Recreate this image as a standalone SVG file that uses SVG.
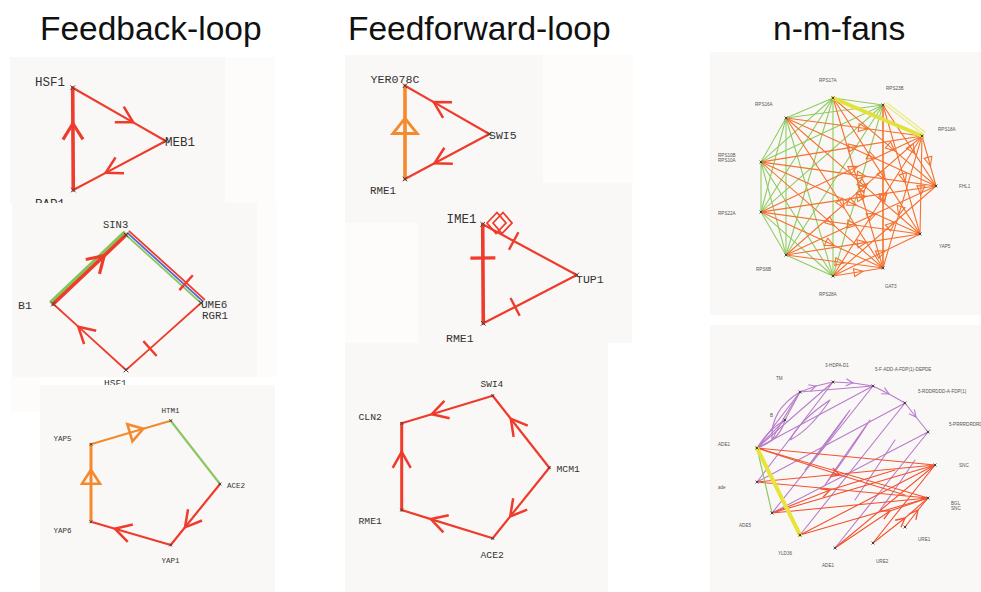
<svg xmlns="http://www.w3.org/2000/svg" xmlns:xlink="http://www.w3.org/1999/xlink" width="981" height="592" viewBox="0 0 981 592">
<style>
.title{font-family:"Liberation Sans",Arial,sans-serif;font-size:33.5px;fill:#111}
.lbl{font-family:"Liberation Mono","DejaVu Sans Mono",monospace;fill:#333}
.tiny{font-family:"Liberation Sans",Arial,sans-serif;font-size:4.6px;fill:#555}
.bg{fill:#faf8f6}
.bgl{fill:#fdfcfb}
.e{fill:none;stroke-linecap:round}
.r{stroke:#ef3b2b;stroke-width:2.2}
.rt{stroke:#ef3b2b;stroke-width:3.6}
.o{stroke:#f5892e;stroke-width:2.2}
.ot{stroke:#f5892e;stroke-width:3.6}
.g{stroke:#8dc763;stroke-width:2.2}
.gt{stroke:#86c45a;stroke-width:3.4}
.b{stroke:#5468cc;stroke-width:1.8}
.fg{stroke:#8fcb62;stroke-width:1.1}
.fo{stroke:#f4712f;stroke-width:1.1}
.fp{stroke:#b77ccb;stroke-width:1.1}
.fr{stroke:#f2522e;stroke-width:1.1}
.xm{fill:none;stroke:#444;stroke-width:1}
</style>
<defs>
<path id="xm" class="xm" d="M-2.3,-2.3L2.3,2.3M-2.3,2.3L2.3,-2.3"/>
<path id="xs" class="xm" d="M-1.4,-1.4L1.4,1.4M-1.4,1.4L1.4,-1.4"/>
<marker id="chevR" markerUnits="userSpaceOnUse" orient="auto" overflow="visible" markerWidth="1" markerHeight="1" refX="0" refY="0">
<path d="M-16,-9L0,0L-16,9" fill="none" stroke="#ef3b2b" stroke-width="2.5"/>
</marker>
<marker id="chevRT" markerUnits="userSpaceOnUse" orient="auto" overflow="visible" markerWidth="1" markerHeight="1" refX="0" refY="0">
<path d="M-16,-10L0,0L-16,10" fill="none" stroke="#ef3b2b" stroke-width="3.2"/>
</marker>
<marker id="tickR" markerUnits="userSpaceOnUse" orient="auto" overflow="visible" markerWidth="1" markerHeight="1" refX="0" refY="0">
<path d="M0,-10L0,10" fill="none" stroke="#ef3b2b" stroke-width="2.4"/>
</marker>
<marker id="tickRT" markerUnits="userSpaceOnUse" orient="auto" overflow="visible" markerWidth="1" markerHeight="1" refX="0" refY="0">
<path d="M0,-12.5L0,12.5" fill="none" stroke="#ef3b2b" stroke-width="3.2"/>
</marker>
<marker id="triO" markerUnits="userSpaceOnUse" orient="auto" overflow="visible" markerWidth="1" markerHeight="1" refX="0" refY="0">
<path d="M0,0L-14,-9L-14,9Z" fill="none" stroke="#f5892e" stroke-width="2.6"/>
</marker>
<marker id="triOB" markerUnits="userSpaceOnUse" orient="auto" overflow="visible" markerWidth="1" markerHeight="1" refX="0" refY="0">
<path d="M0,0L-15,-12L-15,12Z" fill="none" stroke="#f5892e" stroke-width="3"/>
</marker>
<marker id="triF" markerUnits="userSpaceOnUse" orient="auto" overflow="visible" markerWidth="1" markerHeight="1" refX="0" refY="0">
<path d="M0,0L-9,-4L-9,4Z" fill="none" stroke="#f4712f" stroke-width="1.1"/>
</marker>
<marker id="chevP" markerUnits="userSpaceOnUse" orient="auto" overflow="visible" markerWidth="1" markerHeight="1" refX="0" refY="0">
<path d="M-7,-3.5L0,0L-7,3.5" fill="none" stroke="#b77ccb" stroke-width="1.1"/>
</marker>
<marker id="chevF" markerUnits="userSpaceOnUse" orient="auto" overflow="visible" markerWidth="1" markerHeight="1" refX="0" refY="0">
<path d="M-9,-4.5L0,0L-9,4.5" fill="none" stroke="#f2522e" stroke-width="1.3"/>
</marker>
</defs>

<rect width="981" height="592" fill="#ffffff"/>

<g id="titles">
<text class="title" x="40" y="40">Feedback-loop</text>
<text class="title" x="348" y="40">Feedforward-loop</text>
<text class="title" x="773" y="40">n-m-fans</text>
</g>

<!-- ========== Feedback-loop panel 1 ========== -->
<rect class="bg" x="10" y="57" width="215" height="146"/>
<rect class="bgl" x="225" y="57" width="50" height="146"/>
<g id="fb1-edges">
<path class="e r" d="M72.7,87.7L133.15,122.35L165.7,141" marker-mid="url(#chevR)"/>
<path class="e r" d="M165.7,141L105.64,172.85L73.3,190" marker-mid="url(#chevR)"/>
<path class="e rt" d="M73.3,190L72.9,123.5L72.7,87.7" marker-mid="url(#chevRT)"/>
</g>
<g id="fb1-hsf1"><use href="#xm" x="72.7" y="87.7"/><text class="lbl" x="35" y="86" font-size="12.5">HSF1</text></g>
<g id="fb1-meb1"><use href="#xm" x="165.7" y="141"/><text class="lbl" x="165" y="146" font-size="12.5">MEB1</text></g>
<g id="fb1-rap1"><use href="#xm" x="73.3" y="190"/><text class="lbl" x="35" y="208" font-size="12.5">RAP1</text></g>

<!-- ========== Feedback-loop panel 2 ========== -->
<rect class="bg" x="12" y="203" width="245" height="174"/>
<rect class="bgl" x="257" y="203" width="20" height="174"/>
<g id="fb2-edges">
<path class="e gt" d="M51.2,301.8L123.9,232.8"/>
<path class="e rt" d="M53.3,304L104.2,255.7L126,235" marker-mid="url(#chevRT)"/>
<path class="e g" d="M126,235L201,303" style="stroke-width:1.8"/>
<path class="e b" d="M127.7,233.2L202.7,301.2"/>
<path class="e r" d="M129.4,231.3L186.1,282.7L204.4,299.3" style="stroke-width:1.8" marker-mid="url(#tickR)"/>
<path class="e r" d="M201,303L150,348.6L126,370" style="stroke-width:1.8" marker-mid="url(#tickR)"/>
<path class="e r" d="M126,370L78.3,326.7L53.3,304" style="stroke-width:1.8" marker-mid="url(#chevR)"/>
</g>
<g id="fb2-sin3"><use href="#xm" x="126" y="235"/><text class="lbl" x="103" y="228" font-size="10.5" fill="#555">SIN3</text></g>
<g id="fb2-b1"><use href="#xm" x="53.3" y="304"/><text class="lbl" x="18" y="309" font-size="11.5">B1</text></g>
<g id="fb2-ume6"><use href="#xm" x="201" y="303"/><text class="lbl" x="201" y="308" font-size="11">UME6</text></g>
<g id="fb2-rgr1"><text class="lbl" x="202" y="319" font-size="10.8">RGR1</text></g>
<g id="fb2-hsf1"><use href="#xm" x="126" y="370"/><text class="lbl" x="104" y="386" font-size="9.5">HSF1</text></g>

<!-- ========== Feedback-loop panel 3 ========== -->
<rect class="bgl" x="10" y="377" width="30" height="35"/>
<rect class="bg" x="40" y="385" width="235" height="207"/>
<g id="fb3-edges">
<path class="e o" d="M91,444.3L143.3,428.8L170.7,420.7" marker-mid="url(#triO)"/>
<path class="e g" d="M170.7,420.7L220,484"/>
<path class="e r" d="M220,484L185,527.3L170.7,545" marker-mid="url(#chevR)"/>
<path class="e r" d="M170.7,545L114.9,528.7L91,521.7" marker-mid="url(#chevR)"/>
<path class="e ot" d="M91,521.7L91,469.8L91,444.3" style="stroke-width:3" marker-mid="url(#triO)"/>
</g>
<g id="fb3-htm1"><use href="#xs" x="170.7" y="420.7"/><text class="lbl" x="161.5" y="413" font-size="7.5">HTM1</text></g>
<g id="fb3-ace2"><use href="#xs" x="220" y="484"/><text class="lbl" x="227" y="488" font-size="7.5">ACE2</text></g>
<g id="fb3-yap1"><use href="#xs" x="170.7" y="545"/><text class="lbl" x="161.5" y="563" font-size="7.5">YAP1</text></g>
<g id="fb3-yap6"><use href="#xs" x="91" y="521.7"/><text class="lbl" x="53.5" y="533" font-size="7.5">YAP6</text></g>
<g id="fb3-yap5"><use href="#xs" x="91" y="444.3"/><text class="lbl" x="53.5" y="441" font-size="7.5">YAP5</text></g>

<!-- ========== Feedforward-loop panel 1 ========== -->
<rect class="bg" x="345" y="55" width="198" height="168"/>
<rect class="bgl" x="543" y="55" width="90" height="128"/>
<g id="ff1-edges">
<path class="e ot" d="M405,179L405,118.4L405,85.7" marker-mid="url(#triOB)"/>
<path class="e r" d="M489.3,134L433.7,102.1L405,85.7" marker-mid="url(#chevR)"/>
<path class="e r" d="M489.3,134L434.5,163.25L405,179" marker-mid="url(#chevR)"/>
</g>
<g id="ff1-yer078c"><use href="#xm" x="405" y="85.7"/><text class="lbl" x="370.5" y="82.5" font-size="11.7">YER078C</text></g>
<g id="ff1-swi5"><use href="#xm" x="489.3" y="134"/><text class="lbl" x="489" y="138.5" font-size="11.5">SWI5</text></g>
<g id="ff1-rme1"><use href="#xm" x="405" y="179"/><text class="lbl" x="370" y="193.5" font-size="10.8">RME1</text></g>

<!-- ========== Feedforward-loop panel 2 ========== -->
<rect class="bg" x="418" y="183" width="214" height="160"/>
<rect class="bgl" x="345" y="223" width="73" height="120"/>
<g id="ff2-edges">
<path class="e rt" d="M482.7,224.3L482.9,258L483.3,323.3" marker-mid="url(#tickRT)"/>
<path class="e r" d="M482.7,224.3L513.7,241L576.7,275" marker-mid="url(#tickR)"/>
<path class="e r" d="M483.3,323.3L515.1,306.9L576.7,275" marker-mid="url(#tickR)"/>
<path class="e" d="M487,223L497,212.5L506,223L496,233.5Z M493,223L503,212.5L512,223L502,233.5Z" stroke="#ef3b2b" stroke-width="1.8" stroke-linejoin="miter"/>
</g>
<g id="ff2-ime1"><use href="#xm" x="482.7" y="224.3"/><text class="lbl" x="446.5" y="222.5" font-size="12.5">IME1</text></g>
<g id="ff2-tup1"><use href="#xm" x="576.7" y="275"/><text class="lbl" x="576" y="282.5" font-size="11.5">TUP1</text></g>
<g id="ff2-rme1"><use href="#xm" x="483.3" y="323.3"/><text class="lbl" x="446" y="341.5" font-size="11.5">RME1</text></g>

<!-- ========== Feedforward-loop panel 3 ========== -->
<rect class="bg" x="345" y="343" width="263" height="249"/>
<g id="ff3-edges">
<path class="e r" d="M492.7,395.7L431.7,414.2L401.7,423.3" marker-mid="url(#chevR)"/>
<path class="e r" d="M549.3,467.7L510.8,418.7L492.7,395.7" marker-mid="url(#chevR)"/>
<path class="e r" d="M549.3,467.7L510.2,516.4L492.7,538.3" marker-mid="url(#chevR)"/>
<path class="e r" d="M492.7,538.3L430.8,519.1L401.7,510" marker-mid="url(#chevR)"/>
<path class="e rt" d="M401.7,510L401.7,451.9L401.7,423.3" style="stroke-width:3" marker-mid="url(#chevR)"/>
</g>
<g id="ff3-swi4"><use href="#xs" x="492.7" y="395.7"/><text class="lbl" x="480.5" y="387" font-size="9.5">SWI4</text></g>
<g id="ff3-cln2"><use href="#xs" x="401.7" y="423.3"/><text class="lbl" x="358.5" y="420" font-size="9.7">CLN2</text></g>
<g id="ff3-mcm1"><use href="#xs" x="549.3" y="467.7"/><text class="lbl" x="556.5" y="472" font-size="9.7">MCM1</text></g>
<g id="ff3-rme1"><use href="#xs" x="401.7" y="510"/><text class="lbl" x="358.5" y="524" font-size="9.7">RME1</text></g>
<g id="ff3-ace2"><use href="#xs" x="492.7" y="538.3"/><text class="lbl" x="480.5" y="558" font-size="9.7">ACE2</text></g>

<!-- ========== n-m-fans panel 1 ========== -->
<rect class="bg" x="710" y="52" width="271" height="263"/>
<g id="fan1-edges">
<g class="e fg">
<path d="M833,98L883,105M833,98L786,118M833,98L761,162M833,98L761,212M833,98L786,255M833,98L833,276"/>
<path d="M883,105L786,118M883,105L761,162M883,105L761,212M883,105L786,255M883,105L833,276"/>
<path d="M786,118L761,162M786,118L761,212M786,118L786,255M786,118L833,276"/>
<path d="M761,162L761,212M761,162L786,255M761,162L833,276"/>
<path d="M761,212L786,255M761,212L833,276M786,255L833,276"/>
</g>
<g class="e fo">
<path d="M786,118L867.6,128.8L922,136" marker-mid="url(#triF)"/>
<path d="M786,118L876,158.8L936,186" marker-mid="url(#triF)"/>
<path d="M786,118L866.4,187.6L920,234" marker-mid="url(#triF)"/>
<path d="M786,118L844.2,208L883,268" marker-mid="url(#triF)"/>
<path d="M761,162L857.6,146.4L922,136" marker-mid="url(#triF)"/>
<path d="M761,162L866,176.4L936,186" marker-mid="url(#triF)"/>
<path d="M761,162L856.4,205.2L920,234" marker-mid="url(#triF)"/>
<path d="M761,162L834.2,225.6L883,268" marker-mid="url(#triF)"/>
<path d="M761,212L857.6,166.4L922,136" marker-mid="url(#triF)"/>
<path d="M761,212L866,196.4L936,186" marker-mid="url(#triF)"/>
<path d="M761,212L856.4,225.2L920,234" marker-mid="url(#triF)"/>
<path d="M761,212L834.2,245.6L883,268" marker-mid="url(#triF)"/>
<path d="M786,255L867.6,183.6L922,136" marker-mid="url(#triF)"/>
<path d="M786,255L876,213.6L936,186" marker-mid="url(#triF)"/>
<path d="M786,255L866.4,242.4L920,234" marker-mid="url(#triF)"/>
<path d="M786,255L844.2,262.8L883,268" marker-mid="url(#triF)"/>
<path d="M833,276L886.4,192L922,136" marker-mid="url(#triF)"/>
<path d="M833,276L894.8,222L936,186" marker-mid="url(#triF)"/>
<path d="M833,276L885.2,250.8L920,234" marker-mid="url(#triF)"/>
<path d="M833,276L863,271.2L883,268" marker-mid="url(#triF)"/>
<path d="M833,98L894.8,150.8L936,186" marker-mid="url(#triF)"/>
<path d="M833,98L885.2,179.6L920,234" marker-mid="url(#triF)"/>
<path d="M833,98L863,200L883,268" marker-mid="url(#triF)"/>
<path d="M883,105L914.8,153.6L936,186" marker-mid="url(#triF)"/>
<path d="M883,105L905.2,182.4L920,234" marker-mid="url(#triF)"/>
<path d="M883,105L883,202.8L883,268" style="stroke-width:1.6" marker-mid="url(#triF)"/>
<path d="M922,136L930.4,166L936,186" marker-mid="url(#triF)"/>
<path d="M922,136L920.8,194.8L920,234" marker-mid="url(#triF)"/>
<path d="M922,136L898.6,215.2L883,268" marker-mid="url(#triF)"/>
</g>
<path class="e" d="M833,98L922,136" stroke="#e2e23a" stroke-width="4"/>
<path class="e" d="M884,104L923,134M887,103L925,132" stroke="#eaea86" stroke-width="1.5"/>
</g>
<g id="fan1-nodes">
<g id="fan1-rps17a"><use href="#xs" x="833" y="98"/><text class="tiny" x="819" y="82">RPS17A</text></g>
<g id="fan1-rps23b"><use href="#xs" x="883" y="105"/><text class="tiny" x="886" y="90">RPS23B</text></g>
<g id="fan1-rps18a"><use href="#xs" x="922" y="136"/><text class="tiny" x="938" y="131">RPS18A</text></g>
<g id="fan1-fhl1"><use href="#xs" x="936" y="186"/><text class="tiny" x="959" y="188">FHL1</text></g>
<g id="fan1-yap5"><use href="#xs" x="920" y="234"/><text class="tiny" x="939" y="248">YAP5</text></g>
<g id="fan1-gat3"><use href="#xs" x="883" y="268"/><text class="tiny" x="885" y="288">GAT3</text></g>
<g id="fan1-rps28a"><use href="#xs" x="833" y="276"/><text class="tiny" x="819" y="296">RPS28A</text></g>
<g id="fan1-rps6b"><use href="#xs" x="786" y="255"/><text class="tiny" x="756" y="271">RPS6B</text></g>
<g id="fan1-rps22a"><use href="#xs" x="761" y="212"/><text class="tiny" x="718" y="215">RPS22A</text></g>
<g id="fan1-rps10"><use href="#xs" x="761" y="162"/><text class="tiny" x="718" y="157">RPS10B</text><text class="tiny" x="718" y="162">RPS10A</text></g>
<g id="fan1-rps16a"><use href="#xs" x="786" y="118"/><text class="tiny" x="755" y="106">RPS16A</text></g>
</g>

<!-- ========== n-m-fans panel 2 ========== -->
<rect class="bg" x="710" y="325" width="271" height="267"/>
<g id="fan2-edges">
<g class="e fp">
<path d="M800,392L816,386L833,382" marker-mid="url(#chevP)"/>
<path d="M833,382L853,383L873,386" marker-mid="url(#chevP)"/>
<path d="M873,386L889,394L905,403" marker-mid="url(#chevP)"/>
<path d="M905,403L916,417L928,432" marker-mid="url(#chevP)"/>
<path d="M800,392L873,386M800,392L785,420L757,448M800,392L757,448"/>
<path d="M833,382L757,482M833,382L757,448M873,386L772,513M873,386L757,448"/>
<path d="M905,403L800,535M905,403L757,482M928,432L835,548M928,432L772,513"/>
<path d="M785,420Q768,430 757,448M785,420Q780,440 757,448"/>
<path d="M800,392Q770,410 772,440Q782,420 800,392"/>
<path d="M850,410Q820,450 805,470M850,410Q830,440 805,470"/>
<path d="M870,420Q848,455 825,485M870,420Q838,465 825,485"/>
<path d="M895,440Q875,470 855,500M895,440Q865,485 855,500"/>
<path d="M915,460Q895,490 880,510M915,460Q888,500 880,510"/>
<path d="M830,400Q800,420 790,440M830,400Q810,430 790,440"/>
</g>
<g class="e fr">
<path d="M757,448L935,465M757,448L928,498M757,482L935,465M757,482L928,498"/>
<path d="M772,513L935,465M772,513L928,498M800,535L935,465M800,535L928,498"/>
<path d="M835,548L935,465M873,543L935,465"/>
<path d="M835,548L890,511L928,498" marker-mid="url(#chevF)"/>
<path d="M873,543L905,518L928,498" marker-mid="url(#chevF)"/>
<path d="M905,527L918,510L928,498" marker-mid="url(#chevF)"/>
<path d="M757,448L840,475L905,495" marker-mid="url(#chevF)"/>
<path d="M772,513L830,490L895,470" marker-mid="url(#chevF)"/>
</g>
<path class="e" d="M757,448L772,513" stroke="#8dc763" stroke-width="1.2"/>
<path class="e" d="M757,448L800,535" stroke="#e8e43c" stroke-width="4"/>
</g>
<g id="fan2-nodes">
<g id="fan2-n1"><use href="#xs" x="800" y="392"/><text class="tiny" x="776" y="380">TM</text></g>
<g id="fan2-n2"><use href="#xs" x="833" y="382"/><text class="tiny" x="825" y="367">3-HDPA-D1</text></g>
<g id="fan2-n3"><use href="#xs" x="873" y="386"/><text class="tiny" x="875" y="371">5-F-ADD-A-FDP(1)-DEPDE</text></g>
<g id="fan2-n4"><use href="#xs" x="905" y="403"/><text class="tiny" x="918" y="393">5-RDDRDDD-A-FDP(1)</text></g>
<g id="fan2-n5"><use href="#xs" x="928" y="432"/><text class="tiny" x="949" y="426">5-PRRRDRDRD</text></g>
<g id="fan2-n6"><use href="#xs" x="935" y="465"/><text class="tiny" x="959" y="467">SNC</text></g>
<g id="fan2-n7"><use href="#xs" x="928" y="498"/><text class="tiny" x="951" y="505">BGL</text><text class="tiny" x="951" y="509.5">SNC</text></g>
<g id="fan2-n8"><use href="#xs" x="905" y="527"/><text class="tiny" x="918" y="541">URE1</text></g>
<g id="fan2-n9"><use href="#xs" x="873" y="543"/><text class="tiny" x="876" y="563">URE2</text></g>
<g id="fan2-n10"><use href="#xs" x="835" y="548"/><text class="tiny" x="822" y="567">ADE1</text></g>
<g id="fan2-n11"><use href="#xs" x="800" y="535"/><text class="tiny" x="778" y="555">YLD36</text></g>
<g id="fan2-n12"><use href="#xs" x="772" y="513"/><text class="tiny" x="739" y="527">ADE5</text></g>
<g id="fan2-n13"><use href="#xs" x="757" y="482"/><text class="tiny" x="718" y="489">ade</text></g>
<g id="fan2-n14"><use href="#xs" x="757" y="448"/><text class="tiny" x="718" y="446">ADE1</text></g>
<g id="fan2-n15"><use href="#xs" x="785" y="420"/><text class="tiny" x="770" y="417">B</text></g>
</g>
</svg>
